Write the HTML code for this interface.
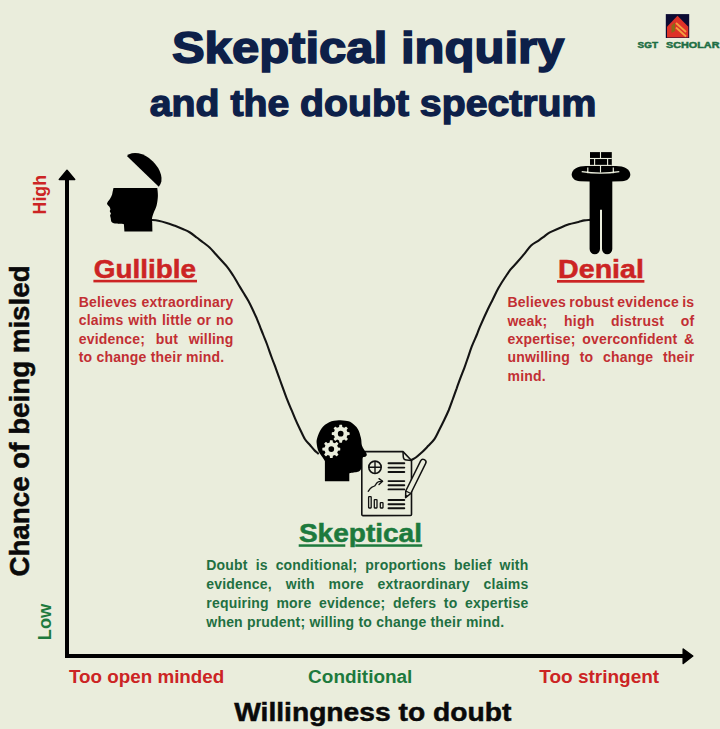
<!DOCTYPE html>
<html><head><meta charset="utf-8"><style>
html,body{margin:0;padding:0;background:#eaeddc;}
body{width:720px;height:729px;position:relative;overflow:hidden;font-family:"Liberation Sans",sans-serif;}
svg{position:absolute;left:0;top:0;}
</style></head><body>
<svg width="720" height="729" viewBox="0 0 720 729">
<rect width="720" height="729" fill="#eaeddc"/>
<g font-family="Liberation Sans" font-weight="bold">
<text x="171.9" y="63.1" font-size="45" fill="#0d2049" stroke="#0d2049" stroke-width="1.6" textLength="392.5" lengthAdjust="spacingAndGlyphs">Skeptical inquiry</text>
<text x="149.8" y="116.0" font-size="36.6" fill="#0d2049" stroke="#0d2049" stroke-width="1.3" textLength="446.6" lengthAdjust="spacingAndGlyphs">and the doubt spectrum</text>
<text x="637.6" y="48.0" font-size="9.4" fill="#1e6e44" stroke="#1e6e44" stroke-width="0.5" textLength="20.4" lengthAdjust="spacingAndGlyphs">SGT</text>
<text x="666" y="48.0" font-size="9.4" fill="#1e6e44" stroke="#1e6e44" stroke-width="0.5" textLength="53.5" lengthAdjust="spacingAndGlyphs">SCHOLAR</text>
</g>
<rect x="665.8" y="14.1" width="23.4" height="23.9" fill="#0c0b33"/>
<path d="M677.5,15.8 L688.3,26.8 L688.3,37.4 L667,37.4 L667,26.8 Z" fill="#de3228"/>
<path d="M676,23 L686,32 M676,27.5 L686,36.5" stroke="#f4a040" stroke-width="1.8" fill="none"/>
<path d="M671.5,25.5 L675,22.5 L675,31 L671.5,33 Z" fill="#8a6a18"/>
<!-- axes -->
<rect x="65" y="178" width="4" height="480" fill="#000"/>
<rect x="65" y="654" width="619" height="4" fill="#000"/>
<path d="M59.3,179.5 L67,170.3 L74.7,179.5 Z" fill="#000" stroke="#000" stroke-width="1.5" stroke-linejoin="round"/>
<path d="M683.2,649 L692.8,656 L683.2,663.5 Z" fill="#000" stroke="#000" stroke-width="1.5" stroke-linejoin="round"/>
<!-- curve -->
<path d="M151.7,220.0 C152.8,220.1 155.8,220.3 158.3,220.8 C160.8,221.3 163.9,222.1 166.7,222.9 C169.5,223.7 172.2,224.8 175.0,225.8 C177.8,226.9 180.8,228.1 183.3,229.2 C185.8,230.3 187.8,231.1 190.0,232.5 C192.2,233.9 194.5,235.8 196.7,237.5 C198.9,239.2 201.2,240.8 203.3,242.5 C205.5,244.2 207.5,245.6 209.6,247.5 C211.7,249.4 213.8,252.0 215.8,254.2 C217.8,256.4 219.6,258.4 221.7,260.8 C223.8,263.2 226.4,265.8 228.3,268.3 C230.2,270.8 231.6,273.2 233.3,275.8 C235.0,278.4 236.6,281.4 238.3,284.2 C240.0,287.0 241.6,289.7 243.3,292.5 C245.0,295.3 246.8,298.0 248.3,300.8 C249.8,303.6 251.1,306.3 252.5,309.2 C253.9,312.1 255.4,315.4 256.7,318.3 C257.9,321.2 258.9,323.9 260.0,326.7 C261.1,329.5 262.2,332.1 263.3,335.0 C264.4,337.9 265.5,340.2 266.9,344.0 C268.3,347.8 270.2,353.4 271.7,357.5 C273.2,361.6 274.4,364.6 275.8,368.3 C277.2,372.1 278.6,376.1 280.0,380.0 C281.4,383.9 283.1,388.6 284.2,391.7 C285.3,394.8 285.6,395.5 286.7,398.3 C287.8,401.1 289.4,405.0 290.8,408.3 C292.2,411.6 293.5,414.8 295.0,418.3 C296.5,421.8 298.3,425.7 300.0,429.2 C301.7,432.7 303.3,436.6 305.0,439.2 C306.7,441.8 308.5,443.2 310.0,445.0 C311.5,446.8 312.9,448.6 314.2,450.0 C315.5,451.4 317.4,452.9 318.0,453.5" stroke="#141414" stroke-width="2.1" fill="none" stroke-linecap="round"/>
<path d="M410.5,460.5 C411.4,460.0 413.9,458.8 415.8,457.5 C417.7,456.2 419.6,454.4 421.7,452.5 C423.8,450.6 426.1,448.1 428.3,445.8 C430.5,443.5 432.8,441.4 434.6,438.8 C436.4,436.1 437.6,433.1 439.2,430.0 C440.8,426.9 442.6,423.3 444.2,420.0 C445.8,416.7 447.4,413.3 448.8,410.0 C450.1,406.7 451.2,403.6 452.5,400.0 C453.8,396.4 455.4,391.8 456.7,388.3 C457.9,384.8 458.8,382.5 460.0,379.2 C461.2,375.9 463.0,371.5 464.2,368.3 C465.4,365.1 465.9,363.6 467.1,360.0 C468.4,356.4 470.1,350.9 471.7,346.7 C473.3,342.5 475.3,338.3 476.7,335.0 C478.1,331.7 478.2,330.9 480.0,326.7 C481.8,322.5 485.4,314.4 487.5,310.0 C489.6,305.6 490.7,303.6 492.5,300.0 C494.3,296.4 496.2,292.1 498.3,288.3 C500.4,284.6 502.9,280.6 505.0,277.5 C507.1,274.4 508.7,271.8 510.6,269.4 C512.6,266.9 514.5,265.3 516.7,262.8 C518.9,260.3 521.5,257.3 523.9,254.4 C526.3,251.5 528.8,247.8 531.1,245.6 C533.4,243.4 535.8,242.5 537.8,241.1 C539.8,239.7 541.4,238.6 543.3,237.2 C545.2,235.8 546.8,234.1 549.4,232.6 C552.0,231.1 556.0,229.6 559.2,228.2 C562.5,226.8 565.7,225.4 568.9,224.3 C572.1,223.2 576.0,222.6 578.6,221.9 C581.2,221.2 582.5,220.7 584.4,220.4 C586.3,220.1 589.1,220.0 590.0,219.9" stroke="#141414" stroke-width="2.1" fill="none" stroke-linecap="round"/>
<!-- gullible head -->
<path d="M126.9,156.1 A22.10,14.2 43.81 0 1 158.8,186.7 Z" fill="#000"/>
<path d="M113.5,188.1 L157.3,188.1 C157.4,189.4 158.0,193.1 157.9,196.0 C157.8,198.9 157.3,202.7 156.6,205.5 C155.9,208.3 154.4,210.8 153.6,213.0 C152.8,215.2 152.2,217.0 152.0,218.5 C151.8,220.0 152.2,221.4 152.2,222.0 L152.4,231.5 L124.4,231.5 L123.9,224.2 C122.4,224.1 117.0,223.9 115.0,223.6 C113.0,223.3 112.9,223.1 112.2,222.6 C111.5,222.1 111.2,221.3 111.0,220.5 C110.8,219.7 110.9,218.8 110.7,217.9 C110.5,217.1 110.1,216.1 110.1,215.4 C110.1,214.7 111.0,214.3 110.9,213.6 C110.9,212.9 109.9,212.0 109.8,211.3 C109.7,210.6 110.5,210.0 110.4,209.2 C110.3,208.4 109.7,207.4 109.2,206.6 C108.7,205.8 107.5,204.9 107.2,204.2 C106.9,203.5 107.1,203.1 107.6,202.2 C108.1,201.3 109.5,199.8 110.2,198.6 C110.9,197.4 111.5,196.0 111.9,195.0 C112.3,194.0 112.2,193.6 112.5,192.4 C112.8,191.2 113.3,188.8 113.5,188.1 Z" fill="#000"/>
<!-- denial figure -->
<path d="M589,181.5 L580,181.2 C574.5,181 571.7,178 571.7,174.5 C571.7,169 578,166 586,165.9 L616,165.9 C624,166 630.3,169 630.3,174.5 C630.3,178 627.5,181 622,181.2 L612,181.5 Z" fill="#000"/>
<path d="M589.6,172 H612.3 V249.1 A5.15,5.15 0 0 1 602,249.1 V209.7 H600 V249.1 A5.2,5.2 0 0 1 589.6,249.1 Z" fill="#000"/>
<rect x="590" y="152.1" width="21.8" height="20.5" fill="#000"/>
<path d="M581.7,171.6 Q600.5,174.6 619.3,171.6 M587.8,167.6 L587.8,173.2 M613.3,167.6 L613.3,173.2" stroke="#eaeddc" stroke-width="1.2" fill="none"/>
<g stroke="#eaeddc" stroke-width="1.1"><line x1="590" y1="158.5" x2="611.8" y2="158.5"/><line x1="590" y1="165.4" x2="611.8" y2="165.4"/><line x1="600.5" y1="152" x2="600.5" y2="158.5"/><line x1="594.6" y1="158.5" x2="594.6" y2="165.4"/><line x1="607.6" y1="158.5" x2="607.6" y2="165.4"/><line x1="600.5" y1="165.4" x2="600.5" y2="172.6"/></g>
<!-- skeptical head -->
<path d="M362.8,451.6 Q361.8,451.6 361.8,452.6 L361.8,514.6 Q361.8,515.6 362.8,515.6 L410.5,515.5 Q411.5,515.5 411.5,514.5 L411.5,460.5 L403,451.6 Z" fill="#eaeddc" stroke="#111111"  stroke-width="1.6" stroke-linejoin="round"/>
<path d="M403,452 L403.3,457 Q403.5,459.8 406.5,460 L411.5,460.5" stroke="#111111" fill="none" stroke-width="1.5" stroke-linejoin="round"/>
<circle cx="375" cy="467.3" r="6.2" stroke="#111111" fill="none" stroke-width="1.6"/>
<path d="M368.8,467.3 H381.2 M375,461.1 V473.5" stroke="#111111" fill="none" stroke-width="1.4"/>
<line x1="388.5" y1="463.2" x2="404.3" y2="463.2" stroke="#111111" stroke-width="1.9" stroke-linecap="round"/>
<line x1="388.5" y1="467.6" x2="404.3" y2="467.6" stroke="#111111" stroke-width="1.9" stroke-linecap="round"/>
<line x1="388.5" y1="472" x2="404.3" y2="472" stroke="#111111" stroke-width="1.9" stroke-linecap="round"/>
<line x1="388.5" y1="481.1" x2="404.3" y2="481.1" stroke="#111111" stroke-width="1.9" stroke-linecap="round"/>
<line x1="388.5" y1="485.3" x2="404.3" y2="485.3" stroke="#111111" stroke-width="1.9" stroke-linecap="round"/>
<line x1="388.5" y1="489.4" x2="404.3" y2="489.4" stroke="#111111" stroke-width="1.9" stroke-linecap="round"/>
<line x1="388.5" y1="500" x2="404.3" y2="500" stroke="#111111" stroke-width="1.9" stroke-linecap="round"/>
<line x1="388.5" y1="504.2" x2="404.3" y2="504.2" stroke="#111111" stroke-width="1.9" stroke-linecap="round"/>
<line x1="388.5" y1="508.2" x2="404.3" y2="508.2" stroke="#111111" stroke-width="1.9" stroke-linecap="round"/>
<path d="M368.2,491.3 Q370.5,488 372,487.2 Q373.5,486.6 374.6,486 Q375.6,485 376.4,483.5 Q377.5,482 379,481.6 L382.4,481.3" stroke="#111111" fill="none" stroke-width="1.35" stroke-linecap="round" stroke-linejoin="round"/>
<path d="M379,478.6 L382.6,481.3 L379,484.6" stroke="#111111" fill="none" stroke-width="1.35" stroke-linecap="round" stroke-linejoin="round"/>
<rect x="368.6" y="496.7" width="2.6" height="11.3" rx="0.5" stroke="#111111" fill="none" stroke-width="1.3"/>
<rect x="374.3" y="499.6" width="2.7" height="8.4" rx="0.5" stroke="#111111" fill="none" stroke-width="1.3"/>
<rect x="380.3" y="502.7" width="2.7" height="5.3" rx="0.5" stroke="#111111" fill="none" stroke-width="1.3"/>
<g transform="translate(405.6,497.6) rotate(-63.68)"><path d="M0,0 L6,-2.8 L39.59622624715552,-2.8 A2.8,2.8 0 0 1 39.59622624715552,2.8 L6,2.8 Z" fill="#eaeddc" stroke="#111111" stroke-width="1.5" stroke-linejoin="round"/><path d="M6,-2.8 L6,2.8" stroke="#111111" stroke-width="1.3"/><path d="M0,0 L2.6,-1.2 L2.6,1.2 Z" fill="#111111"/></g>
<path d="M324.9,481.2 L324.9,461.0 C324.5,460.4 323.6,458.8 322.5,457.2 C321.4,455.6 319.6,453.7 318.6,451.5 C317.6,449.3 316.9,446.1 316.7,443.8 C316.5,441.6 316.4,440.6 317.2,438.0 C318.0,435.4 319.5,431.0 321.5,428.4 C323.5,425.8 326.3,423.5 329.2,422.2 C332.1,420.9 336.1,420.5 338.8,420.3 C341.5,420.1 343.4,420.4 345.5,420.8 C347.6,421.2 349.6,421.4 351.6,422.7 C353.7,424.0 356.2,426.4 357.8,428.9 C359.4,431.4 360.2,435.1 360.9,437.8 C361.6,440.5 361.3,443.0 361.8,444.9 C362.3,446.8 363.2,447.9 364.0,449.4 C364.8,450.9 366.4,452.7 366.7,453.9 C367.0,455.1 366.5,455.9 365.8,456.5 C365.1,457.1 363.4,456.8 362.7,457.4 C362.0,458.0 361.9,459.6 361.8,460.0 L361.8,467.5 C361.6,467.9 361.2,469.2 360.5,469.9 C359.8,470.6 359.6,471.2 357.8,471.7 C356.1,472.2 351.3,472.8 350.0,473.0 L349.3,473.5 L349.3,481.2 Z" fill="#000"/>
<path d="M347.41,432.09 L349.29,432.34 L349.64,432.64 L349.64,434.76 L349.29,435.06 L347.41,435.31 L346.58,437.31 L347.74,438.81 L347.77,439.27 L346.27,440.77 L345.81,440.74 L344.31,439.58 L342.31,440.41 L342.06,442.29 L341.76,442.64 L339.64,442.64 L339.34,442.29 L339.09,440.41 L337.09,439.58 L335.59,440.74 L335.13,440.77 L333.63,439.27 L333.66,438.81 L334.82,437.31 L333.99,435.31 L332.11,435.06 L331.76,434.76 L331.76,432.64 L332.11,432.34 L333.99,432.09 L334.82,430.09 L333.66,428.59 L333.63,428.13 L335.13,426.63 L335.59,426.66 L337.09,427.82 L339.09,426.99 L339.34,425.11 L339.64,424.76 L341.76,424.76 L342.06,425.11 L342.31,426.99 L344.31,427.82 L345.81,426.66 L346.27,426.63 L347.77,428.13 L347.74,428.59 L346.58,430.09 Z M343.55,433.7 A2.85,2.85 0 1 0 337.84999999999997,433.7 A2.85,2.85 0 1 0 343.55,433.7 Z M338.01,447.49 L339.89,447.74 L340.24,448.04 L340.24,450.16 L339.89,450.46 L338.01,450.71 L337.18,452.71 L338.34,454.21 L338.37,454.67 L336.87,456.17 L336.41,456.14 L334.91,454.98 L332.91,455.81 L332.66,457.69 L332.36,458.04 L330.24,458.04 L329.94,457.69 L329.69,455.81 L327.69,454.98 L326.19,456.14 L325.73,456.17 L324.23,454.67 L324.26,454.21 L325.42,452.71 L324.59,450.71 L322.71,450.46 L322.36,450.16 L322.36,448.04 L322.71,447.74 L324.59,447.49 L325.42,445.49 L324.26,443.99 L324.23,443.53 L325.73,442.03 L326.19,442.06 L327.69,443.22 L329.69,442.39 L329.94,440.51 L330.24,440.16 L332.36,440.16 L332.66,440.51 L332.91,442.39 L334.91,443.22 L336.41,442.06 L336.87,442.03 L338.37,443.53 L338.34,443.99 L337.18,445.49 Z M334.15000000000003,449.1 A2.85,2.85 0 1 0 328.45,449.1 A2.85,2.85 0 1 0 334.15000000000003,449.1 Z" fill="#eaeddc" fill-rule="evenodd"/>
<!-- headings -->
<g font-family="Liberation Sans" font-weight="bold">
<text x="93.8" y="277.7" font-size="25.7" fill="#cc2424" stroke="#cc2424" stroke-width="0.5" textLength="102.3" lengthAdjust="spacingAndGlyphs">Gullible</text>
<rect x="93.4" y="279.8" width="103.6" height="2.6" fill="#cc2424"/>
<text x="558.1" y="277.7" font-size="25.7" fill="#cc2424" stroke="#cc2424" stroke-width="0.5" textLength="85.8" lengthAdjust="spacingAndGlyphs">Denial</text>
<rect x="557" y="280" width="87.4" height="2.7" fill="#cc2424"/>
<text x="298.9" y="542.0" font-size="25.7" fill="#1d7a3d" stroke="#1d7a3d" stroke-width="0.5" textLength="123.1" lengthAdjust="spacingAndGlyphs">Skeptical</text>
<rect x="298.7" y="544.3" width="46.6" height="2.5" fill="#1d7a3d"/><rect x="355.3" y="544.3" width="66.9" height="2.5" fill="#1d7a3d"/>
<text x="69" y="683" font-size="18.3" fill="#cc2424" textLength="155.3" lengthAdjust="spacingAndGlyphs">Too open minded</text>
<text x="308.1" y="682.9" font-size="18.7" fill="#1d7a3d" textLength="104.3" lengthAdjust="spacingAndGlyphs">Conditional</text>
<text x="539.2" y="683" font-size="18.5" fill="#cc2424" textLength="120" lengthAdjust="spacingAndGlyphs">Too stringent</text>
<text x="234.2" y="720.5" font-size="26.2" fill="#0a0a0a" stroke="#0a0a0a" stroke-width="0.5" textLength="277.1" lengthAdjust="spacingAndGlyphs">Willingness to doubt</text>
<text transform="translate(28.5,576.6) rotate(-90)" x="0" y="0" font-size="27.2" fill="#0a0a0a" stroke="#0a0a0a" stroke-width="0.5" textLength="311.2" lengthAdjust="spacingAndGlyphs">Chance of being misled</text>
<text transform="translate(45.6,214.4) rotate(-90)" x="0" y="0" font-size="18.3" fill="#cc2424" textLength="39.4" lengthAdjust="spacingAndGlyphs">High</text>
<text transform="translate(51.2,640.2) rotate(-90)" x="0" y="0" font-size="18.5" fill="#1d7a3d" textLength="36.4" lengthAdjust="spacingAndGlyphs">Low</text>
</g>
<g font-family="Liberation Sans" font-weight="bold" font-size="14" fill="#c22f33" letter-spacing="0.2">
<text x="78.70" y="306.8" word-spacing="0.306">Believes extraordinary</text>
<text x="78.70" y="325.1" word-spacing="0.768">claims with little or no</text>
<text x="78.70" y="344.4" word-spacing="6.505">evidence; but willing</text>
<text x="78.70" y="362.4" word-spacing="0.000">to change their mind.</text>
</g>
<g font-family="Liberation Sans" font-weight="bold" font-size="14" fill="#c22f33" letter-spacing="0.2">
<text x="507.50" y="306.6" word-spacing="-0.749">Believes robust evidence is</text>
<text x="507.50" y="325.5" word-spacing="12.574">weak; high distrust of</text>
<text x="507.50" y="344.2" word-spacing="2.494">expertise; overconfident &amp;</text>
<text x="507.50" y="362.3" word-spacing="5.636">unwilling to change their</text>
<text x="507.50" y="380.5" word-spacing="0.000">mind.</text>
</g>
<g font-family="Liberation Sans" font-weight="bold" font-size="14" fill="#1f7042" letter-spacing="0.2">
<text x="206.30" y="569.9" word-spacing="3.823">Doubt is conditional; proportions belief with</text>
<text x="206.30" y="589.0" word-spacing="9.857">evidence, with more extraordinary claims</text>
<text x="206.30" y="607.9" word-spacing="3.526">requiring more evidence; defers to expertise</text>
<text x="206.30" y="627.2" word-spacing="0.000">when prudent; willing to change their mind.</text>
</g>
</svg>
</body></html>
